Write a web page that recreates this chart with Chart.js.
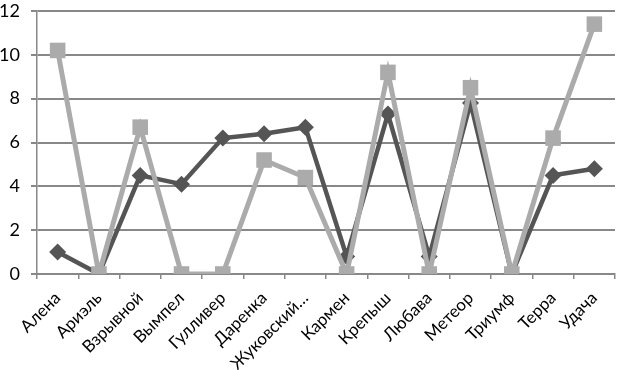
<!DOCTYPE html>
<html>
<head>
<meta charset="utf-8">
<script src="https://cdn.jsdelivr.net/npm/chart.js@4"></script>
<style>
  html, body { margin: 0; padding: 0; background: #fff; }
  #wrap { width: 626px; height: 370px; }
</style>
</head>
<body>
<div id="wrap"><canvas id="chart"></canvas></div>
<script>
var categories = ['Алена', 'Ариэль', 'Взрывной', 'Вымпел', 'Гулливер', 'Даренка', 'Жуковский…',
    'Кармен', 'Крепыш', 'Любава', 'Метеор', 'Триумф', 'Терра', 'Удача'];
var darkValues = [1.0, 0, 4.5, 4.1, 6.2, 6.4, 6.7, 0.8, 7.3, 0.8, 7.8, 0, 4.5, 4.8];
var lightValues = [10.2, 0, 6.7, 0, 0, 5.2, 4.4, 0, 9.2, 0, 8.5, 0, 6.2, 11.4];
var yTicks = [0, 2, 4, 6, 8, 10, 12];

var family = 'Lato, "Open Sans", sans-serif';

var ctx = document.getElementById('chart').getContext('2d');
new Chart(ctx, {
    type: 'line',
    data: {
        labels: categories,
        datasets: [{
            // drawn on top
            data: lightValues,
            borderColor: '#ababab',
            backgroundColor: '#ababab',
            borderWidth: 5,
            pointStyle: 'rect',
            pointRadius: 11,
            pointBorderWidth: 0,
            tension: 0
        }, {
            data: darkValues,
            borderColor: '#555555',
            backgroundColor: '#555555',
            borderWidth: 4.5,
            pointStyle: 'rectRot',
            pointRadius: 8.5,
            pointBorderWidth: 0,
            tension: 0
        }]
    },
    options: {
        responsive: true,
        maintainAspectRatio: false,
        animation: false,
        layout: { padding: { top: 7, right: 1, left: 0, bottom: 0 } },
        plugins: {
            legend: { display: false },
            tooltip: { enabled: false }
        },
        scales: {
            x: {
                offset: true,
                grid: {
                    offset: true,
                    drawOnChartArea: false,
                    drawTicks: true,
                    tickLength: 5,
                    color: '#888888',
                    lineWidth: 1.5
                },
                border: { color: '#888888', width: 2 },
                ticks: {
                    color: '#000',
                    font: { family: family, size: 17 },
                    maxRotation: 45,
                    minRotation: 45,
                    autoSkip: false,
                    padding: 9
                },
                afterFit: function (scale) { scale.height = 96; }
            },
            y: {
                min: 0,
                max: 12,
                afterBuildTicks: function (scale) {
                    scale.ticks = yTicks.map(function (v) { return { value: v }; });
                },
                grid: {
                    color: '#888888',
                    lineWidth: 2,
                    tickLength: 6
                },
                border: { color: '#888888', width: 1.5 },
                ticks: {
                    color: '#000',
                    font: { family: family, size: 18 },
                    padding: 11
                },
                afterFit: function (scale) {
                    // fixed gutter like the original, no extra space above the top label
                    scale.width = 37;
                    scale.paddingTop = 0;
                    scale.paddingBottom = 0;
                }
            }
        }
    }
});
</script>
</body>
</html>
